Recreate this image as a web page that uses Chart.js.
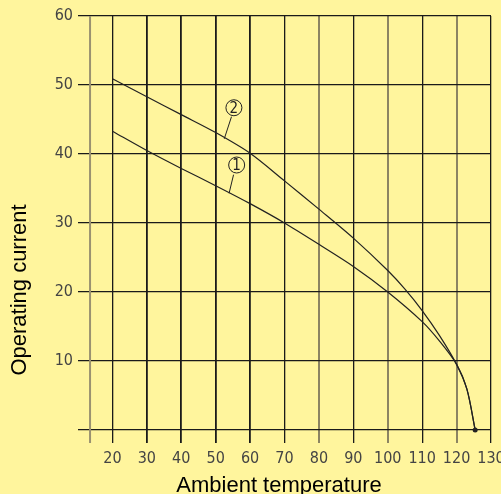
<!DOCTYPE html>
<html>
<head>
<meta charset="utf-8">
<script src="https://cdn.jsdelivr.net/npm/chart.js@4.4.1/dist/chart.umd.min.js"></script>
<style>
  html, body { margin: 0; padding: 0; background: #fff59d; }
  #wrap { width: 501px; height: 494px; }
</style>
</head>
<body>
<div id="wrap"><canvas id="derating"></canvas></div>
<script>
// ===> curve data <===
const temps1 = [20, 30, 40, 50, 60, 70, 80, 90, 100, 110, 115, 120, 123, 125.4];
const current1 = [43.3, 40.5, 37.9, 35.4, 32.8, 30.0, 26.9, 23.7, 20.0, 15.7, 12.9, 9.5, 5.9, 0];

const temps2 = [20, 30, 40, 50, 60, 70, 80, 90, 100, 105, 110, 115, 120, 123, 125.4];
const current2 = [50.9, 48.3, 45.7, 43.1, 40.1, 36.1, 32.0, 27.8, 23.1, 20.4, 17.3, 13.7, 9.5, 5.9, 0];

const xTicks = [20, 30, 40, 50, 60, 70, 80, 90, 100, 110, 120, 130];
const yTicks = [0, 10, 20, 30, 40, 50, 60];
const greyLines = [80, 100, 120];

const bg = "#fff59d";
const narrow = "'Liberation Sans Narrow', 'DejaVu Sans Condensed', sans-serif";
const tickFont = { family: narrow, size: 16 };

function toPoints(xs, ys) {
  return xs.map((x, i) => ({ x: x, y: ys[i] }));
}

// background, left grey rule, curve labels, axis titles
const extras = {
  id: "extras",
  beforeDraw(chart) {
    const c = chart.ctx;
    c.save();
    c.fillStyle = bg;
    c.fillRect(0, 0, chart.width, chart.height);
    c.restore();
  },
  afterDatasetsDraw(chart) {
    const c = chart.ctx;
    const xs = chart.scales.x, ys = chart.scales.y;
    const area = chart.chartArea;
    c.save();
    // left grey rule
    const lx = xs.getPixelForValue(13.5);
    c.strokeStyle = "#9a9270";
    c.lineWidth = 2;
    c.beginPath();
    c.moveTo(lx, area.top);
    c.lineTo(lx, area.bottom);
    c.stroke();

    // circled curve numbers with leader lines
    const marks = [
      { label: "2", cx: 55.3, cy: 46.7, fx: 54.6, fy: 45.4, tx: 52.5, ty: 42.2 },
      { label: "1", cx: 56.1, cy: 38.4, fx: 55.2, fy: 37.0, tx: 53.9, ty: 34.3 },
    ];
    c.strokeStyle = "#222";
    c.fillStyle = "#222";
    c.lineWidth = 1;
    marks.forEach((m) => {
      const px = xs.getPixelForValue(m.cx), py = ys.getPixelForValue(m.cy);
      c.beginPath();
      c.arc(px, py, 8, 0, Math.PI * 2);
      c.stroke();
      c.beginPath();
      c.moveTo(xs.getPixelForValue(m.fx), ys.getPixelForValue(m.fy));
      c.lineTo(xs.getPixelForValue(m.tx), ys.getPixelForValue(m.ty));
      c.stroke();
      c.font = "15px " + narrow;
      c.textAlign = "center";
      c.textBaseline = "middle";
      c.fillText(m.label, px, py + 1);
    });

    // axis titles
    c.fillStyle = "#000";
    c.font = "22px 'Liberation Sans', Arial, sans-serif";
    c.textAlign = "center";
    c.textBaseline = "alphabetic";
    c.fillText("Ambient temperature", 279, 492);
    c.translate(26, 290);
    c.rotate(-Math.PI / 2);
    c.fillText("Operating current", 0, 0);
    c.restore();
  },
};

new Chart("derating", {
  type: "scatter",
  data: {
    datasets: [
      {
        label: "1",
        data: toPoints(temps1, current1),
        showLine: true,
        borderColor: "#222",
        borderWidth: 1.2,
        tension: 0.3,
        pointRadius: (ctx) => (ctx.dataIndex === temps1.length - 1 ? 2.5 : 0),
        pointBackgroundColor: "#222",
        pointBorderWidth: 0,
      },
      {
        label: "2",
        data: toPoints(temps2, current2),
        showLine: true,
        borderColor: "#222",
        borderWidth: 1.2,
        tension: 0.3,
        pointRadius: 0,
      },
    ],
  },
  options: {
    responsive: true,
    maintainAspectRatio: false,
    animation: false,
    layout: { padding: { top: 16, right: 10, left: 0, bottom: 0 } },
    plugins: { legend: { display: false }, tooltip: { enabled: false } },
    scales: {
      x: {
        type: "linear",
        min: 10,
        max: 130,
        border: { display: false },
        afterBuildTicks: (s) => { s.ticks = xTicks.map((v) => ({ value: v })); },
        afterFit: (s) => { s.height = 51; s.paddingLeft = 0; s.paddingRight = 0; },
        grid: {
          drawTicks: false,
          color: (ctx) => (greyLines.includes(ctx.tick && ctx.tick.value) ? "#8c8462" : "#1a1a1a"),
          lineWidth: (ctx) => {
            const v = ctx.tick && ctx.tick.value;
            if (greyLines.includes(v)) return 2;
            return v >= 30 && v <= 60 ? 1.8 : 1.3;
          },
        },
        ticks: {
          padding: 6,
          color: "#444",
          font: tickFont,
          maxRotation: 0,
          autoSkip: false,
        },
      },
      y: {
        type: "linear",
        min: -1.9,
        max: 60,
        border: { display: false },
        afterBuildTicks: (s) => { s.ticks = yTicks.map((v) => ({ value: v })); },
        afterFit: (s) => { s.width = 78; s.paddingTop = 0; s.paddingBottom = 0; },
        grid: { drawTicks: false, color: "#1a1a1a", lineWidth: 1.2 },
        ticks: {
          padding: 5,
          color: "#444",
          font: tickFont,
          callback: (v) => (v === 0 ? "" : v),
        },
      },
    },
  },
  plugins: [extras],
});
</script>
</body>
</html>
